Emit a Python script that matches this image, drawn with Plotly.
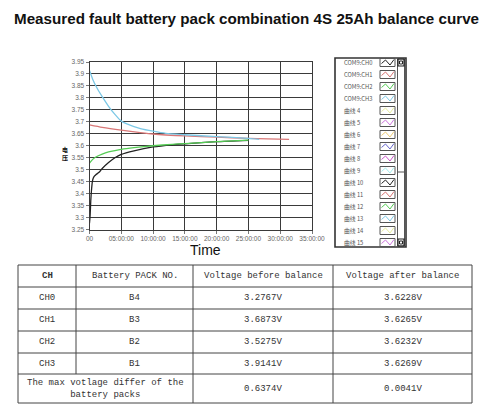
import plotly.graph_objects as go

# ---- chart data (hours, volts) ----
t_ch0 = [0, 0.1, 0.2, 0.3, 0.45, 0.6, 0.8, 1.0, 1.5, 2.0, 3.0, 4.0, 5.0, 7.0, 10.0, 13.0, 15.0, 20.0, 25.0]
v_ch0 = [3.2767, 3.31, 3.37, 3.41, 3.45, 3.465, 3.474, 3.479, 3.489, 3.505, 3.53, 3.55, 3.564, 3.579, 3.595, 3.604, 3.608, 3.617, 3.6228]

t_ch1 = [0, 2.0, 5.0, 8.0, 10.0, 12.0, 15.0, 20.0, 25.0, 28.0, 31.4]
v_ch1 = [3.6873, 3.677, 3.665, 3.655, 3.649, 3.645, 3.641, 3.636, 3.631, 3.629, 3.6265]

t_ch2 = [0, 0.5, 1.0, 2.0, 3.0, 4.0, 5.0, 7.0, 10.0, 13.0, 15.0, 20.0, 25.0]
v_ch2 = [3.5275, 3.543, 3.553, 3.565, 3.574, 3.58, 3.585, 3.592, 3.6, 3.606, 3.609, 3.617, 3.6232]

t_ch3 = [0, 0.5, 1.0, 2.0, 3.0, 4.0, 5.0, 6.0, 7.0, 8.0, 10.0, 12.0, 15.0, 20.0, 25.0, 26.7]
v_ch3 = [3.9141, 3.878, 3.85, 3.805, 3.765, 3.731, 3.703, 3.69, 3.68, 3.672, 3.661, 3.652, 3.646, 3.638, 3.631, 3.6269]

x_tickvals = [0, 5, 10, 15, 20, 25, 30, 35]
x_ticktext = ["00", "05:00:00", "10:00:00", "15:00:00", "20:00:00", "25:00:00", "30:00:00", "35:00:00"]
y_tickvals = [3.25, 3.3, 3.35, 3.4, 3.45, 3.5, 3.55, 3.6, 3.65, 3.7, 3.75, 3.8, 3.85, 3.9, 3.95]
y_ticktext = ["3.25", "3.3", "3.35", "3.4", "3.45", "3.5", "3.55", "3.6", "3.65", "3.7", "3.75", "3.8", "3.85", "3.9", "3.95"]

legend_labels = ["COM9:CH0", "COM9:CH1", "COM9:CH2", "COM9:CH3"] + [f"曲线 {i}" for i in range(4, 16)]
legend_colors = ["#222222", "#d97777", "#55cc55", "#7cc8e6", "#e8eea0", "#cc77dd", "#eecc77", "#6666cc",
                 "#cc55cc", "#a6eeee", "#222222", "#d97777", "#55cc55", "#7cc8e6", "#e8eea0", "#cc77dd"]

# ---- table data ----
table_header = ["CH", "Battery PACK NO.", "Voltage before balance", "Voltage after balance"]
ch_names = ["CH0", "CH1", "CH2", "CH3"]
pack_names = ["B4", "B3", "B2", "B1"]
v_before = ["3.2767V", "3.6873V", "3.5275V", "3.9141V"]
v_after = ["3.6228V", "3.6265V", "3.6232V", "3.6269V"]
diff_label = "The max votlage differ of the<br>battery packs"
diff_before = "0.6374V"
diff_after = "0.0041V"

# page body keeps an 8px margin, so the figure starts at (8, 8)
OFF = 8
W, H = 490 - OFF, 406 - OFF


def px(x):
    return (x - OFF) / W


def py(y):
    return 1 - (y - OFF) / H


fig = go.Figure()

series = [(t_ch0, v_ch0), (t_ch1, v_ch1), (t_ch2, v_ch2), (t_ch3, v_ch3)]
for i, (t, v) in enumerate(series):
    fig.add_trace(go.Scatter(
        x=t, y=v, mode="lines", name=legend_labels[i],
        line=dict(color=legend_colors[i], width=1.3, shape="spline", smoothing=0.6),
        showlegend=False,
    ))

shapes = []
annotations = []


def label(x, y, text, font, xanchor="center"):
    annotations.append(dict(x=px(x), y=py(y), xref="paper", yref="paper", text=text,
                            xanchor=xanchor, yanchor="middle", showarrow=False, font=font))


# title and axis titles
label(246, 18.5, "<b>Measured fault battery pack combination 4S 25Ah balance curve</b>",
      dict(family="Liberation Sans", size=15.2, color="#111"))
label(205, 250, "Time", dict(family="Liberation Sans", size=14, color="#111"))
label(65, 153, "<b>电<br>压</b>", dict(family="Noto Sans CJK SC", size=6, color="#111"))

# ---- legend panel ----
shapes.append(dict(type="rect", xref="paper", yref="paper", x0=px(335), x1=px(406), y0=py(247), y1=py(58),
                   line=dict(color="#333", width=1.6)))
shapes.append(dict(type="rect", xref="paper", yref="paper", x0=px(397.5), x1=px(404.5), y0=py(246), y1=py(59),
                   line=dict(color="#555", width=1)))
for yb in (59, 239):
    shapes.append(dict(type="rect", xref="paper", yref="paper", x0=px(398), x1=px(404), y0=py(yb + 7), y1=py(yb),
                       line=dict(color="#222", width=1.2)))
    shapes.append(dict(type="rect", xref="paper", yref="paper", x0=px(399.5), x1=px(402.5), y0=py(yb + 5), y1=py(yb + 2),
                       line=dict(color="#222", width=1)))
shapes.append(dict(type="line", xref="paper", yref="paper", x0=px(397.5), x1=px(404.5), y0=py(172), y1=py(172),
                   line=dict(color="#555", width=1)))

for i, (lab, col) in enumerate(zip(legend_labels, legend_colors)):
    yc = 62.5 + 12 * i
    label(342, yc, lab, dict(family="Noto Sans CJK SC", size=5.8, color="#555"), xanchor="left")
    shapes.append(dict(type="rect", xref="paper", yref="paper", x0=px(380), x1=px(395), y0=py(yc + 4), y1=py(yc - 4),
                       line=dict(color="#555", width=1)))
    pts = [(381.5, yc + 1), (385.5, yc - 2.5), (390, yc + 2.5), (394, yc - 3)]
    path = "M " + " L ".join(f"{px(a):.5f},{py(b):.5f}" for a, b in pts)
    shapes.append(dict(type="path", xref="paper", yref="paper", path=path, line=dict(color=col, width=1)))

# ---- table ----
col_x = [18, 76, 193, 333, 472]
row_y = [265, 287, 309, 331, 353, 374, 403]
tcolor = "#444"
for y in row_y:
    shapes.append(dict(type="line", xref="paper", yref="paper", x0=px(col_x[0]), x1=px(col_x[-1]),
                       y0=py(y), y1=py(y), line=dict(color=tcolor, width=1)))
for j, x in enumerate(col_x):
    y_end = row_y[5] if j == 1 else row_y[-1]
    shapes.append(dict(type="line", xref="paper", yref="paper", x0=px(x), x1=px(x),
                       y0=py(row_y[0]), y1=py(y_end), line=dict(color=tcolor, width=1)))

tfont = dict(family="Liberation Mono", size=9, color="#333")


def cell(text, c0, c1, r0, r1, bold=False):
    label((c0 + c1) / 2, (r0 + r1) / 2, f"<b>{text}</b>" if bold else text, tfont)


for j, h in enumerate(table_header):
    cell(h, col_x[j], col_x[j + 1], row_y[0], row_y[1], bold=(j == 0))
for i in range(4):
    row = [ch_names[i], pack_names[i], v_before[i], v_after[i]]
    for j, v in enumerate(row):
        cell(v, col_x[j], col_x[j + 1], row_y[i + 1], row_y[i + 2])
cell(diff_label, col_x[0], col_x[2], row_y[5], row_y[6])
cell(diff_before, col_x[2], col_x[3], row_y[5], row_y[6])
cell(diff_after, col_x[3], col_x[4], row_y[5], row_y[6])

grid = "#3a3a3a"
axis_common = dict(
    showgrid=True, gridcolor=grid, gridwidth=1.4,
    showline=True, mirror=True, linecolor=grid, linewidth=1,
    ticks="outside", ticklen=3, tickcolor="#777", zeroline=False,
    tickfont=dict(family="Liberation Sans", size=6.5, color="#666"),
    automargin=False, fixedrange=True,
)
fig.update_layout(
    width=W, height=H,
    margin=dict(l=0, r=0, t=0, b=0),
    paper_bgcolor="white", plot_bgcolor="white",
    showlegend=False,
    shapes=shapes, annotations=annotations,
    xaxis=dict(domain=[px(89.5), px(312)], range=[0, 35],
               tickvals=x_tickvals, ticktext=x_ticktext, **axis_common),
    yaxis=dict(domain=[py(229.5), py(62)], range=[3.25, 3.95],
               tickvals=y_tickvals, ticktext=y_ticktext, **axis_common),
)

fig.write_html("out.html")
